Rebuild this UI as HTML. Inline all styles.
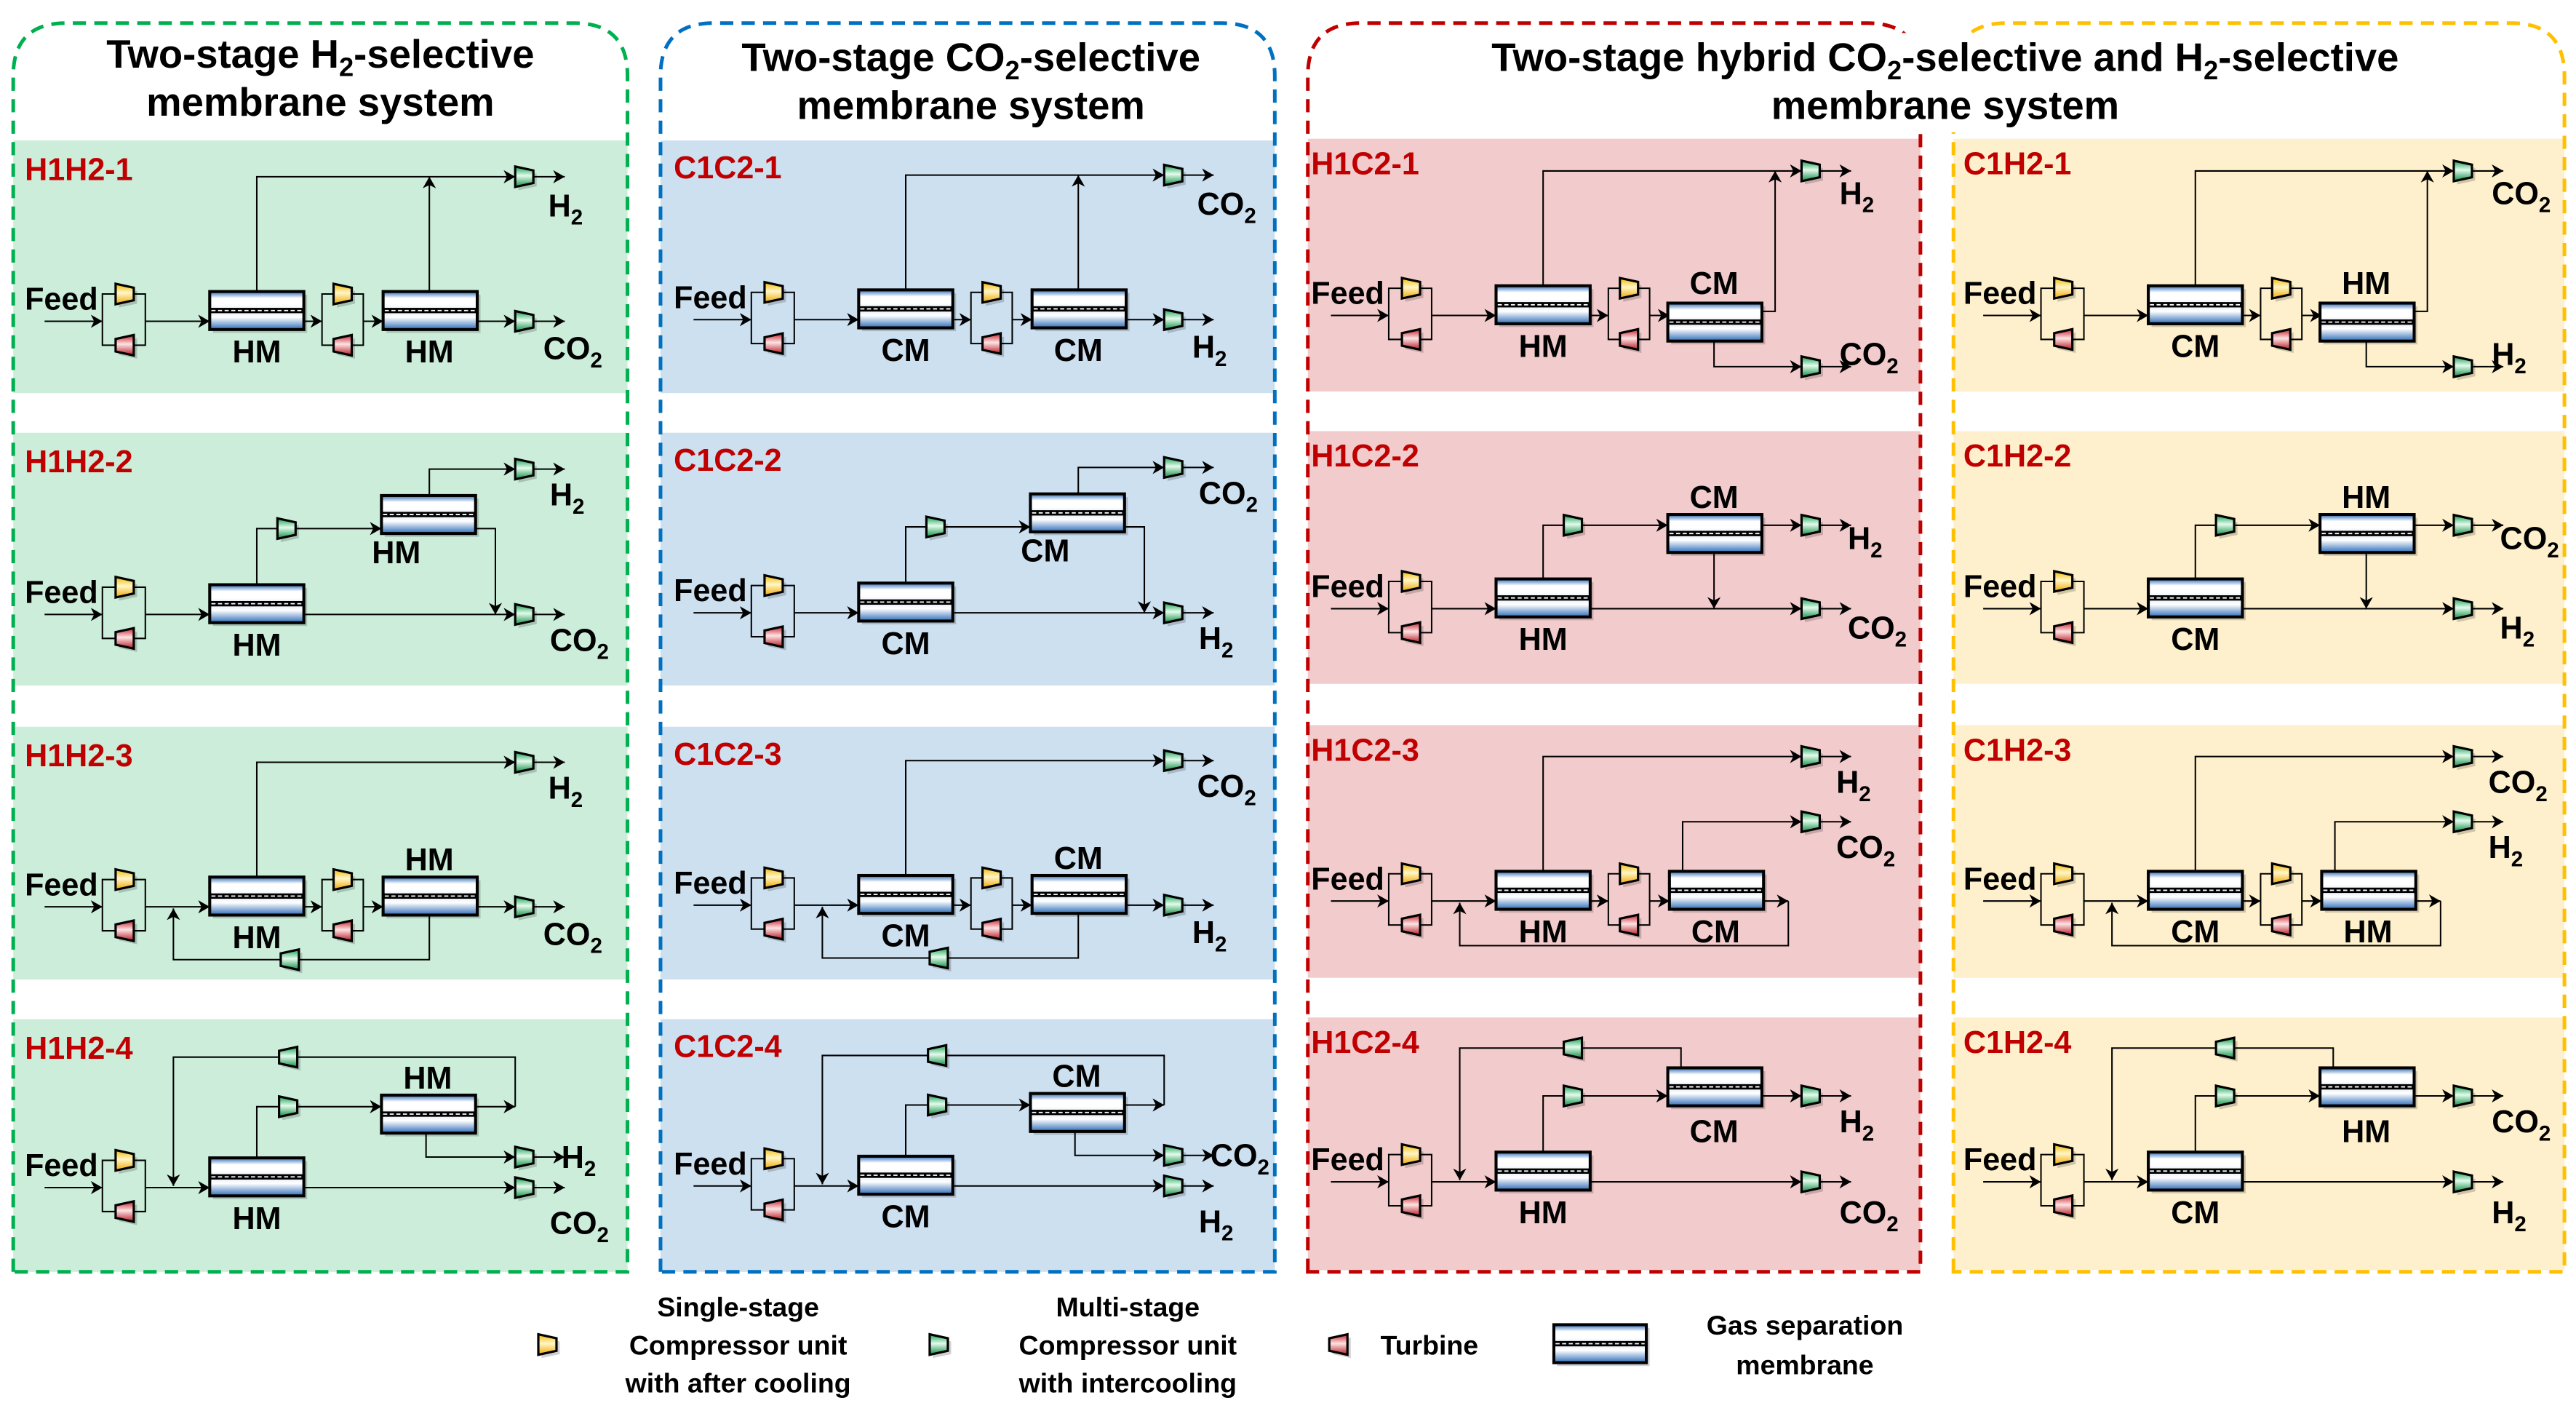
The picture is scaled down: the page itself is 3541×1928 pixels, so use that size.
<!DOCTYPE html>
<html><head><meta charset="utf-8"><style>
html,body{margin:0;padding:0;background:#fff;}
svg{display:block;}
text{font-family:"Liberation Sans",Arial,sans-serif;font-weight:bold;}
</style></head>
<body>
<svg id="fig" xmlns="http://www.w3.org/2000/svg" width="3541" height="1928" viewBox="0 0 1560 849.4">
<defs>
<linearGradient id="gy" x1="0" y1="0" x2="0" y2="1"><stop offset="0" stop-color="#f5b800"/><stop offset="0.45" stop-color="#fff6c8"/><stop offset="1" stop-color="#f0a800"/></linearGradient>
<linearGradient id="gg" x1="0" y1="0" x2="0" y2="1"><stop offset="0" stop-color="#14a050"/><stop offset="0.45" stop-color="#e4fbec"/><stop offset="1" stop-color="#0c8c40"/></linearGradient>
<linearGradient id="gr" x1="0" y1="0" x2="0" y2="1"><stop offset="0" stop-color="#c8202c"/><stop offset="0.45" stop-color="#fde4e4"/><stop offset="1" stop-color="#b81822"/></linearGradient>
<linearGradient id="gm" x1="0" y1="0" x2="0" y2="1"><stop offset="0" stop-color="#2d6cb8"/><stop offset="0.35" stop-color="#ffffff"/><stop offset="0.7" stop-color="#ffffff"/><stop offset="1" stop-color="#dfe9f5"/></linearGradient>
<linearGradient id="gm2" x1="0" y1="0" x2="0" y2="1"><stop offset="0" stop-color="#dfe9f5"/><stop offset="0.35" stop-color="#ffffff"/><stop offset="1" stop-color="#2d6cb8"/></linearGradient>
<marker id="ar" markerUnits="userSpaceOnUse" markerWidth="8" markerHeight="8" refX="7" refY="4" orient="auto"><path d="M0,0 L7,4 L0,8 L2,4 Z" fill="#000"/></marker>
</defs>
</svg>
<script>
const NS='http://www.w3.org/2000/svg';
const svg=document.getElementById('fig');
const columnNames=['h2-selective','co2-selective','hybrid-h1c2','hybrid-c1h2'];
const columnOffsetsX=[0,393,779,1174];
const columnOffsetsY=[0,-1,-3.5,-3.5];
const firstMembrane=['HM','CM','HM','CM'];
const secondMembrane=['HM','CM','CM','HM'];
const topProduct=['H2','CO2','H2','CO2'];
const bottomProduct=['CO2','H2','CO2','H2'];
const hybridFlags=[false,false,true,true];
const schemePrefix=['H1H2','C1C2','H1C2','C1H2'];
const rowTops=[85,262,440,617];
const feedYs=[194.5,372,549,719];
const FS=19;

function el(tag,attrs,name,parent){
  const e=document.createElementNS(NS,tag);
  for(const k in attrs) e.setAttribute(k,attrs[k]);
  
  
  (parent||svg).appendChild(e);
  return e;
}
function line(pts,arrow,name){
  const d='M'+pts.map(p=>p[0]+','+p[1]).join(' L');
  const a={d:d,fill:'none',stroke:'#000','stroke-width':0.9};
  if(arrow) a['marker-end']='url(#ar)';
  return el('path',a,name||'flow-line');
}
function comp(x,y,kind,dir,name){
  const g=el('g',{},name||(kind+'-unit'));
  const w=11,big=6.2,sm=3.8;
  let pts;
  const wideLeft = (kind!=='turbine') ? (dir!=='l') : false;
  if(wideLeft) pts=[[x,y-big],[x+w,y-sm],[x+w,y+sm],[x,y+big]];
  else pts=[[x,y-sm],[x+w,y-big],[x+w,y+big],[x,y+sm]];
  const ps=pts.map(p=>p.join(',')).join(' ');
  const sh=pts.map(p=>(p[0]+2)+','+(p[1]+2)).join(' ');
  el('polygon',{points:sh,fill:'rgba(0,0,0,0.18)'},'unit-shadow',g);
  const fill=kind==='yellow'?'url(#gy)':kind==='green'?'url(#gg)':'url(#gr)';
  el('polygon',{points:ps,fill:fill,stroke:'#000','stroke-width':1.4,'stroke-linejoin':'miter'},'unit-body',g);
  return g;
}
function memb(x,y,w,h,name){
  const g=el('g',{},name||'membrane');
  el('rect',{x:x+2,y:y+2,width:w,height:h,fill:'rgba(0,0,0,0.18)'},'membrane-shadow',g);
  el('rect',{x:x,y:y,width:w,height:h/2,fill:'url(#gm)'},'membrane-top',g);
  el('rect',{x:x,y:y+h/2,width:w,height:h/2,fill:'url(#gm2)'},'membrane-bottom',g);
  el('rect',{x:x,y:y+h*0.43,width:w,height:h*0.14,fill:'#000'},'membrane-layer',g);
  el('line',{x1:x+1,y1:y+h/2,x2:x+w-1,y2:y+h/2,stroke:'#fff','stroke-width':0.8,'stroke-dasharray':'2.5 1.5'},'membrane-dash',g);
  el('rect',{x:x,y:y,width:w,height:h,fill:'none',stroke:'#000','stroke-width':1.8},'membrane-frame',g);
  return g;
}
function txt(x,y,s,size,anchor,name,fill){
  const t=el('text',{x:x,y:y,'font-size':size,'text-anchor':anchor||'start',fill:fill||'#000'},name);
  t.textContent=s;return t;
}
function product(x,y,s,name){
  const t=el('text',{x:x,y:y,'font-size':FS},name||'product-label');
  const base=s.slice(0,-1);
  const t1=document.createElementNS(NS,'tspan');t1.textContent=base;t.appendChild(t1);
  const t2=document.createElementNS(NS,'tspan');t2.textContent='2';t2.setAttribute('font-size',13);t2.setAttribute('dy',5);t.appendChild(t2);
  return t;
}

const bgColors=['#cbedd9','#cde0f0','#f2cbcc','#fef0cc'];
const borderColors=['#00b050','#0070c0','#c00000','#ffc000'];
const colX=[[8,380],[400,772],[792,1163],[1183,1553]];
for(let c=0;c<4;c++){
  for(let r=0;r<4;r++){
    el('rect',{x:colX[c][0],y:rowTops[r]+(c>1?-1:0),width:colX[c][1]-colX[c][0],height:153,fill:bgColors[c]},'row-background');
  }
}
for(let c=0;c<4;c++){
  const x0=colX[c][0],x1=colX[c][1];
  const d='M'+x0+',770 V46 Q'+x0+',14 '+(x0+32)+',14 H'+(x1-32)+' Q'+x1+',14 '+x1+',46 V770 Z';
  el('path',{d:d,fill:'none',stroke:borderColors[c],'stroke-width':2.2,'stroke-dasharray':'8 5'},'column-frame-'+columnNames[c]);
}
el('rect',{x:1040,y:20,width:280,height:60,fill:'#fff'},'title-backing');

function title2(cx,y,a,b,name){
  const t=el('text',{x:cx,y:y,'font-size':24,'text-anchor':'middle'},name);
  const s1=document.createElementNS(NS,'tspan');s1.textContent=a;t.appendChild(s1);
  const s2=document.createElementNS(NS,'tspan');s2.textContent='2';s2.setAttribute('font-size',16);s2.setAttribute('dy',5);t.appendChild(s2);
  const s3=document.createElementNS(NS,'tspan');s3.textContent=b;s3.setAttribute('dy',-5);t.appendChild(s3);
  return t;
}
title2(194,41,'Two-stage H','-selective','title-h2-selective');
txt(194,70,'membrane system',24,'middle','title-h2-selective-line2');
title2(588,43,'Two-stage CO','-selective','title-co2-selective');
txt(588,72,'membrane system',24,'middle','title-co2-selective-line2');
{
  const t=el('text',{x:1178,y:43,'font-size':24,'text-anchor':'middle'},'title-hybrid');
  const parts=[['Two-stage hybrid CO',0,24],['2',5,16],['-selective and  H',-5,24],['2',5,16],['-selective',-5,24]];
  parts.forEach(p=>{const s=document.createElementNS(NS,'tspan');s.textContent=p[0];s.setAttribute('dy',p[1]);s.setAttribute('font-size',p[2]);s.setAttribute('xml:space','preserve');t.appendChild(s);});
  txt(1178,72,'membrane system',24,'middle','title-hybrid-line2');
}

for(let c=0;c<4;c++){
  const ox=columnOffsetsX[c], oy=columnOffsetsY[c], hyb=hybridFlags[c];
  const A=firstMembrane[c], B=secondMembrane[c];
  for(let r=0;r<4;r++){
    const F=feedYs[r]+oy;
    const X=v=>ox+v;
    txt(X(15),rowTops[r]+oy+24,schemePrefix[c]+'-'+(r+1),FS,'start','scheme-label','#c00000');
    txt(X(15),F-7,'Feed',FS,'start','feed-label');
    line([[X(27),F],[X(62),F]],true,'feed-line');
    line([[X(70),F-16.5],[X(62),F-16.5],[X(62),F+14.5],[X(70),F+14.5]],false,'bypass-bracket-left');
    line([[X(81),F-16.5],[X(88),F-16.5],[X(88),F+14.5],[X(81),F+14.5]],false,'bypass-bracket-right');
    comp(X(70),F-16.5,'yellow','r','single-stage-compressor');
    comp(X(70),F+14.5,'turbine','r','turbine');
    line([[X(88),F],[X(127),F]],true,'feed-to-membrane-1');
    memb(X(127),F-18,57,23,'membrane-1');
    txt(X(155.5),F+25,A,FS,'middle','membrane-1-label');
    const outComp=(y)=>{
      comp(X(312),y,'green','r','product-compressor');
      line([[X(323),y],[X(342),y]],true,'product-arrow');
    };
    if(r===0||r===2){
      line([[X(184),F],[X(195),F]],true,'to-bracket-2');
      line([[X(202),F-16.5],[X(195),F-16.5],[X(195),F+14.5],[X(202),F+14.5]],false,'bracket-2-left');
      line([[X(213),F-16.5],[X(220),F-16.5],[X(220),F+14.5],[X(213),F+14.5]],false,'bracket-2-right');
      comp(X(202),F-16.5,'yellow','r','single-stage-compressor-2');
      comp(X(202),F+14.5,'turbine','r','turbine-2');
      line([[X(220),F],[X(232),F]],true,'to-membrane-2');
      const topY=F-87.5;
      line([[X(155.5),F-18],[X(155.5),topY],[X(312),topY]],true,'permeate-line-1');
      outComp(topY);
      if(r===0){
        if(!hyb){
          memb(X(232),F-18,57,23,'membrane-2');
          txt(X(260),F+25,B,FS,'middle','membrane-2-label');
          line([[X(260),F-18],[X(260),topY]],true,'permeate-line-2');
          line([[X(289),F],[X(312),F]],true,'retentate-line');
          outComp(F);
          product(X(332),topY+24,topProduct[c],'top-product-label');
          product(X(329),F+23,bottomProduct[c],'bottom-product-label');
        } else {
          memb(X(231),F-7.5,57,23,'membrane-2');
          txt(X(259),F-13,B,FS,'middle','membrane-2-label');
          line([[X(288),F-2.5],[X(296),F-2.5],[X(296),topY]],true,'permeate-line-2');
          line([[X(259),F+15.5],[X(259),F+31],[X(312),F+31]],true,'retentate-line');
          outComp(F+31);
          product(X(335),topY+20,topProduct[c],'top-product-label');
          product(X(335),F+30,bottomProduct[c],'bottom-product-label');
        }
      } else {
        memb(X(232),F-18,57,23,'membrane-2');
        if(!hyb){
          txt(X(260),F-22,B,FS,'middle','membrane-2-label');
          line([[X(289),F],[X(312),F]],true,'retentate-line');
          outComp(F);
          line([[X(260),F+5],[X(260),F+32],[X(105),F+32],[X(105),F+1]],true,'recycle-line');
          comp(X(170),F+32,'green','l','recycle-compressor');
          product(X(332),topY+22,topProduct[c],'top-product-label');
          product(X(329),F+23,bottomProduct[c],'bottom-product-label');
        } else {
          txt(X(260),F+25,B,FS,'middle','membrane-2-label');
          line([[X(240),F-18],[X(240),F-48],[X(312),F-48]],true,'permeate-line-2');
          outComp(F-48);
          line([[X(289),F],[X(304),F]],true,'retentate-out');
          line([[X(304),F],[X(304),F+27],[X(105),F+27],[X(105),F+1]],true,'recycle-line');
          product(X(333),topY+22,topProduct[c],'top-product-label');
          product(X(333),F-26,bottomProduct[c],'middle-product-label');
        }
      }
    } else if(r===1){
      line([[X(184),F],[X(312),F]],true,'retentate-line');
      outComp(F);
      if(!hyb){
        line([[X(155.5),F-18],[X(155.5),F-52],[X(168),F-52]],false,'permeate-line-1');
        comp(X(168),F-52,'green','r','interstage-compressor');
        line([[X(179),F-52],[X(231),F-52]],true,'to-membrane-2');
        memb(X(231),F-72,57,23,'membrane-2');
        txt(X(240),F-31,B,FS,'middle','membrane-2-label');
        line([[X(260),F-72],[X(260),F-88],[X(312),F-88]],true,'permeate-line-2');
        outComp(F-88);
        line([[X(288),F-52],[X(300),F-52],[X(300),F]],true,'retentate-2-line');
        product(X(333),F-66,topProduct[c],'top-product-label');
        product(X(333),F+22,bottomProduct[c],'bottom-product-label');
      } else {
        line([[X(155.5),F-18],[X(155.5),F-50.5],[X(168),F-50.5]],false,'permeate-line-1');
        comp(X(168),F-50.5,'green','r','interstage-compressor');
        line([[X(179),F-50.5],[X(231),F-50.5]],true,'to-membrane-2');
        memb(X(231),F-57,57,23,'membrane-2');
        txt(X(259),F-61,B,FS,'middle','membrane-2-label');
        line([[X(288),F-50.5],[X(312),F-50.5]],true,'permeate-line-2');
        outComp(F-50.5);
        line([[X(259),F-34],[X(259),F]],true,'retentate-2-line');
        product(X(340),F-36,topProduct[c],'top-product-label');
        product(X(340),F+18,bottomProduct[c],'bottom-product-label');
      }
    } else {
      line([[X(184),F],[X(312),F]],true,'retentate-line');
      outComp(F);
      if(!hyb){
        line([[X(155.5),F-18],[X(155.5),F-49],[X(169),F-49]],false,'permeate-line-1');
        comp(X(169),F-49,'green','r','interstage-compressor');
        line([[X(180),F-49],[X(231),F-49]],true,'to-membrane-2');
        memb(X(231),F-56,57,23,'membrane-2');
        txt(X(259),F-60,B,FS,'middle','membrane-2-label');
        line([[X(288),F-49],[X(312),F-49]],true,'membrane-2-outlet');
        line([[X(312),F-49],[X(312),F-79],[X(180),F-79]],false,'recycle-line-a');
        comp(X(169),F-79,'green','l','recycle-compressor');
        line([[X(169),F-79],[X(105),F-79],[X(105),F-1]],true,'recycle-line-b');
        line([[X(258),F-33],[X(258),F-18.5],[X(312),F-18.5]],true,'permeate-line-2');
        outComp(F-18.5);
        product(X(340),F-12,topProduct[c],'top-product-label');
        product(X(333),F+28,bottomProduct[c],'bottom-product-label');
      } else {
        line([[X(155.5),F-18],[X(155.5),F-52],[X(168),F-52]],false,'permeate-line-1');
        comp(X(168),F-52,'green','r','interstage-compressor');
        line([[X(179),F-52],[X(231),F-52]],true,'to-membrane-2');
        memb(X(231),F-69,57,23,'membrane-2');
        txt(X(259),F-24,B,FS,'middle','membrane-2-label');
        line([[X(288),F-52],[X(312),F-52]],true,'permeate-line-2');
        outComp(F-52);
        line([[X(239),F-69],[X(239),F-81],[X(179),F-81]],false,'recycle-line-a');
        comp(X(168),F-81,'green','l','recycle-compressor');
        line([[X(168),F-81],[X(105),F-81],[X(105),F-1]],true,'recycle-line-b');
        product(X(335),F-30,topProduct[c],'top-product-label');
        product(X(335),F+25,bottomProduct[c],'bottom-product-label');
      }
    }
  }
}

comp(326,814,'yellow','r','legend-single-stage-icon');
txt(447,797,'Single-stage',16.5,'middle','legend-single-stage-line1');
txt(447,820,'Compressor unit',16.5,'middle','legend-single-stage-line2');
txt(447,843,'with after cooling',16.5,'middle','legend-single-stage-line3');
comp(563,814,'green','r','legend-multi-stage-icon');
txt(683,797,'Multi-stage',16.5,'middle','legend-multi-stage-line1');
txt(683,820,'Compressor unit',16.5,'middle','legend-multi-stage-line2');
txt(683,843,'with intercooling',16.5,'middle','legend-multi-stage-line3');
comp(805,814,'turbine','r','legend-turbine-icon');
txt(836,820,'Turbine',16.5,'start','legend-turbine-label');
memb(941,802,56,23,'legend-membrane-icon');
txt(1093,808,'Gas separation',16.5,'middle','legend-membrane-line1');
txt(1093,832,'membrane',16.5,'middle','legend-membrane-line2');
</script>
</body></html>
